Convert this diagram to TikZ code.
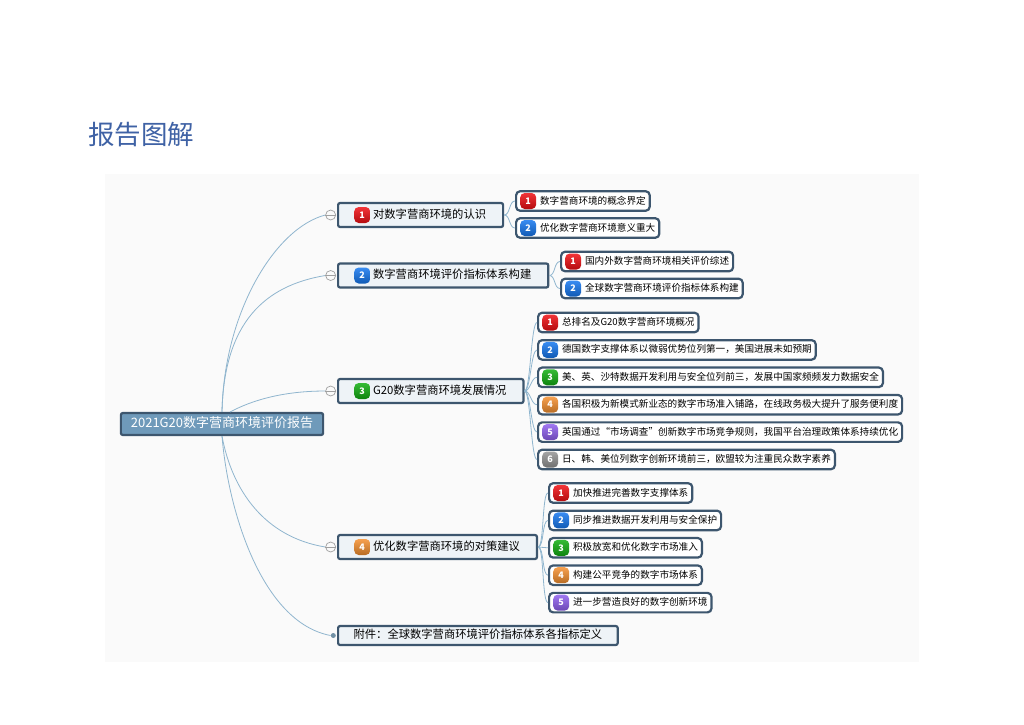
\documentclass[tikz,border=0pt]{standalone}
\usepackage{fontspec}
\setmainfont{Noto Sans CJK SC}
\usetikzlibrary{positioning}

\definecolor{edgedark}{HTML}{3D566E}
\definecolor{linkblue}{HTML}{8FB5CE}
\definecolor{rootfill}{HTML}{6F9ABA}
\definecolor{mainfill}{HTML}{EEF3F7}
\definecolor{panelgrey}{HTML}{FAFAFA}
\definecolor{titleblue}{HTML}{3F62A5}
\definecolor{handlegrey}{HTML}{A0A0A0}
\definecolor{badgered}{HTML}{F01014}
\definecolor{badgeblue}{HTML}{1678F0}
\definecolor{badgegreen}{HTML}{12AF12}
\definecolor{badgeorange}{HTML}{F59030}
\definecolor{badgepurple}{HTML}{9060F0}
\definecolor{badgegrey}{HTML}{959595}

\begin{document}
\begin{tikzpicture}[
  x=1pt, y=-1pt,
  rootbox/.style={draw=edgedark, line width=2.2pt, rounded corners=2pt, fill=rootfill,
    text=white, font=\fontsize{13}{15}\selectfont, inner xsep=10pt, inner ysep=0pt,
    text height=.8em, text depth=.2em, minimum height=22pt},
  mainbox/.style={draw=edgedark, line width=2.2pt, rounded corners=2pt, fill=mainfill, anchor=west,
    font=\fontsize{11.3}{13}\selectfont, inner xsep=17pt, inner ysep=0pt,
    text height=.8em, text depth=.2em, minimum height=24pt,
    execute at begin node={\hspace*{18pt}}},
  notebox/.style={draw=edgedark, line width=2.2pt, rounded corners=2pt, fill=mainfill, anchor=west,
    font=\fontsize{11.3}{13}\selectfont, inner xsep=15.5pt, inner ysep=0pt,
    text height=.8em, text depth=.2em, minimum height=19pt},
  subbox/.style={draw=edgedark, line width=2.2pt, rounded corners=4pt, fill=white, anchor=west,
    font=\fontsize{9.6}{11}\selectfont, inner xsep=4pt, inner ysep=0pt,
    text height=.8em, text depth=.2em, minimum height=19.5pt,
    execute at begin node={\hspace*{20pt}}},
  nextbox/.style={subbox, below=5.7pt of #1.south west, anchor=north west},
  badge/.style={rounded corners=4.5pt, minimum size=16pt, inner sep=0pt, text=white,
    top color=#1!85!white, bottom color=#1!75!black, font=\fontsize{9}{9}\selectfont\bfseries},
  handle/.style={circle, draw=handlegrey, fill=panelgrey, line width=.7pt, minimum size=10pt, inner sep=0pt},
  dot/.style={circle, fill=linkblue!80!black, minimum size=5pt, inner sep=0pt},
  link/.style={draw=linkblue, line width=.8pt},
  twig/.style={out=0, in=180, max distance=6pt}
]
  \fill[white] (0,0) rectangle (1024,724);
  \fill[panelgrey] (105,174) rectangle (919,662);
  \useasboundingbox (0,0) rectangle (1024,724);

  \node[text=titleblue, font=\fontsize{26.5}{30}\selectfont, inner sep=0pt] (title) at (141,135) {报告图解};

  \node[rootbox] (root) at (222,424) {2021G20数字营商环境评价报告};
  \coordinate (rootc) at (230,412);

  \node[mainbox] (know)  at (337,215) {对数字营商环境的认识};
  \node[mainbox] (index) at (337,275.5) {数字营商环境评价指标体系构建};
  \node[mainbox] (state) at (337,391) {G20数字营商环境发展情况};
  \node[mainbox] (adv)   at (337,547) {优化数字营商环境的对策建议};
  \node[notebox] (note)  at (337,635.5) {附件：全球数字营商环境评价指标体系各指标定义};

  \node[handle, left=1pt of know]  (hknow)  {};
  \node[handle, left=1pt of index] (hindex) {};
  \node[handle, left=1pt of state] (hstate) {};
  \node[handle, left=1pt of adv]   (hadv)   {};
  \node[dot, left=1pt of note]     (hnote)  {};

  \node[subbox] (know1) at (515,201) {数字营商环境的概念界定};
  \node[subbox] (know2) at (515,228) {优化数字营商环境意义重大};

  \node[subbox] (index1) at (560,261.5) {国内外数字营商环境相关评价综述};
  \node[subbox] (index2) at (560,288.5) {全球数字营商环境评价指标体系构建};

  \node[subbox] (state1) at (537,322.5) {总排名及G20数字营商环境概况};
  \node[nextbox=state1] (state2) {德国数字支撑体系以微弱优势位列第一，美国进展未如预期};
  \node[nextbox=state2] (state3) {美、英、沙特数据开发利用与安全位列前三，发展中国家频频发力数据安全};
  \node[nextbox=state3] (state4) {各国积极为新模式新业态的数字市场准入铺路，在线政务极大提升了服务便利度};
  \node[nextbox=state4] (state5) {英国通过“市场调查”创新数字市场竞争规则，我国平台治理政策体系持续优化};
  \node[nextbox=state5] (state6) {日、韩、美位列数字创新环境前三，欧盟较为注重民众数字素养};

  \node[subbox] (adv1) at (548,493) {加快推进完善数字支撑体系};
  \node[nextbox=adv1] (adv2) {同步推进数据开发利用与安全保护};
  \node[nextbox=adv2] (adv3) {积极放宽和优化数字市场准入};
  \node[nextbox=adv3] (adv4) {构建公平竞争的数字市场体系};
  \node[nextbox=adv4] (adv5) {进一步营造良好的数字创新环境};

  \node[badge=badgered,    right=17pt of know.west]  (bknow)  {1};
  \node[badge=badgeblue,   right=17pt of index.west] (bindex) {2};
  \node[badge=badgegreen,  right=17pt of state.west] (bstate) {3};
  \node[badge=badgeorange, right=17pt of adv.west]   (badv)   {4};

  \node[badge=badgered,  right=5pt of know1.west]  (bknow1)  {1};
  \node[badge=badgeblue, right=5pt of know2.west]  (bknow2)  {2};
  \node[badge=badgered,  right=5pt of index1.west] (bindex1) {1};
  \node[badge=badgeblue, right=5pt of index2.west] (bindex2) {2};

  \node[badge=badgered,    right=5pt of state1.west] (bstate1) {1};
  \node[badge=badgeblue,   right=5pt of state2.west] (bstate2) {2};
  \node[badge=badgegreen,  right=5pt of state3.west] (bstate3) {3};
  \node[badge=badgeorange, right=5pt of state4.west] (bstate4) {4};
  \node[badge=badgepurple, right=5pt of state5.west] (bstate5) {5};
  \node[badge=badgegrey,   right=5pt of state6.west] (bstate6) {6};

  \node[badge=badgered,    right=5pt of adv1.west] (badv1) {1};
  \node[badge=badgeblue,   right=5pt of adv2.west] (badv2) {2};
  \node[badge=badgegreen,  right=5pt of adv3.west] (badv3) {3};
  \node[badge=badgeorange, right=5pt of adv4.west] (badv4) {4};
  \node[badge=badgepurple, right=5pt of adv5.west] (badv5) {5};

  \draw[link] (root.north) .. controls +(2,-100) and +(-50,13) .. (hknow.west);
  \draw[link] (root.north) .. controls +(2,-90) and +(-60,10) .. (hindex.west);
  \draw[link] (rootc) .. controls +(15,-8) and +(-50,0) .. (hstate.west);
  \draw[link] (root.south) .. controls +(10,54) and +(-61,-10) .. (hadv.west);
  \draw[link] (root.south) .. controls +(6,74) and +(-69,-13) .. (hnote.west);

  \draw[draw=handlegrey, line width=.7pt] (hknow.west) -- (hknow.east);
  \draw[draw=handlegrey, line width=.7pt] (hindex.west) -- (hindex.east);
  \draw[draw=handlegrey, line width=.7pt] (hstate.west) -- (hstate.east);
  \draw[draw=handlegrey, line width=.7pt] (hadv.west) -- (hadv.east);

  \draw[link] (know.east) to[twig] (know1.west);
  \draw[link] (know.east) to[twig] (know2.west);
  \draw[link] (index.east) to[twig] (index1.west);
  \draw[link] (index.east) to[twig] (index2.west);
  \draw[link] (state.east) to[twig] (state1.west);
  \draw[link] (state.east) to[twig] (state2.west);
  \draw[link] (state.east) to[twig] (state3.west);
  \draw[link] (state.east) to[twig] (state4.west);
  \draw[link] (state.east) to[twig] (state5.west);
  \draw[link] (state.east) to[twig] (state6.west);
  \draw[link] (adv.east) to[twig] (adv1.west);
  \draw[link] (adv.east) to[twig] (adv2.west);
  \draw[link] (adv.east) to[twig] (adv3.west);
  \draw[link] (adv.east) to[twig] (adv4.west);
  \draw[link] (adv.east) to[twig] (adv5.west);
\end{tikzpicture}
\end{document}
